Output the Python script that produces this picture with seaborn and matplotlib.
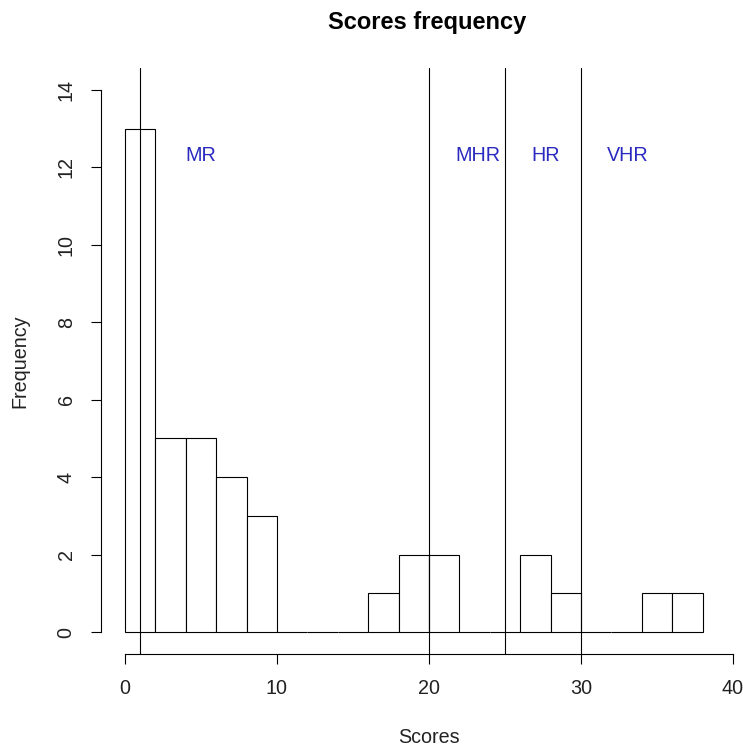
import matplotlib
matplotlib.use("Agg")
import matplotlib.pyplot as plt
import seaborn as sns
import numpy as np

# Data (bin width 2, from 0 to 38)
bin_edges = list(range(0, 40, 2))
counts = [13, 5, 5, 4, 3, 0, 0, 0, 1, 2, 2, 0, 0, 2, 1, 0, 0, 1, 1]
cutoffs = [1, 20, 25, 30]
zone_labels = ["MR", "MHR", "HR", "VHR"]
zone_label_x = [5, 23.2, 27.7, 33.1]
zone_label_y = 12.3
x_ticks = [0, 10, 20, 30, 40]
y_ticks = [0, 2, 4, 6, 8, 10, 12, 14]

FS = 14.2

sns.set_theme(style="white")
plt.rcParams["font.family"] = ["Liberation Sans", "DejaVu Sans"]

fig = plt.figure(figsize=(7.43, 7.49), dpi=100)
ax = fig.add_axes([0.1355, 0.1272, 0.8837, 0.7816])

centers = [e + 1 for e in bin_edges[:-1]]
sns.histplot(x=centers, weights=counts, bins=bin_edges, ax=ax,
             stat="count", color="white", edgecolor="black",
             linewidth=0.8, alpha=1)

for c in cutoffs:
    ax.axvline(c, color="black", linewidth=0.8)

for lab, lx in zip(zone_labels, zone_label_x):
    ax.text(lx, zone_label_y, lab, color="#2a2ac0", fontsize=FS,
            ha="center", va="center")

ax.set_xlim(-1.6, 41.6)
ax.set_ylim(-0.56, 14.56)
ax.set_xticks(x_ticks)
ax.set_yticks(y_ticks)

for s in ["top", "right"]:
    ax.spines[s].set_visible(False)
for s in ["left", "bottom"]:
    ax.spines[s].set_color("black")
    ax.spines[s].set_linewidth(0.8)
ax.spines["bottom"].set_bounds(0, 40)
ax.spines["left"].set_bounds(0, 14)

ax.tick_params(axis="both", which="major", direction="out", length=7,
               width=0.8, color="black", labelsize=FS, labelcolor="#222222",
               bottom=True, left=True)
ax.tick_params(axis="x", pad=11)
ax.tick_params(axis="y", labelrotation=90, pad=11)
for t in ax.get_yticklabels():
    t.set_va("center")

ax.set_xlabel("Scores", fontsize=FS, color="#222222")
ax.set_ylabel("Frequency", fontsize=FS, color="#222222")
ax.xaxis.set_label_coords(0.5, -0.1435)
ax.yaxis.set_label_coords(-0.1229, 0.5)
ax.xaxis.label.set_va("center")
ax.yaxis.label.set_va("center")

fig.text(427 / 743, 1 - 22 / 749, "Scores frequency", ha="center", va="center",
         fontsize=17.0, fontweight="bold", color="black")

fig.savefig("out.png", dpi=100, facecolor="white")
